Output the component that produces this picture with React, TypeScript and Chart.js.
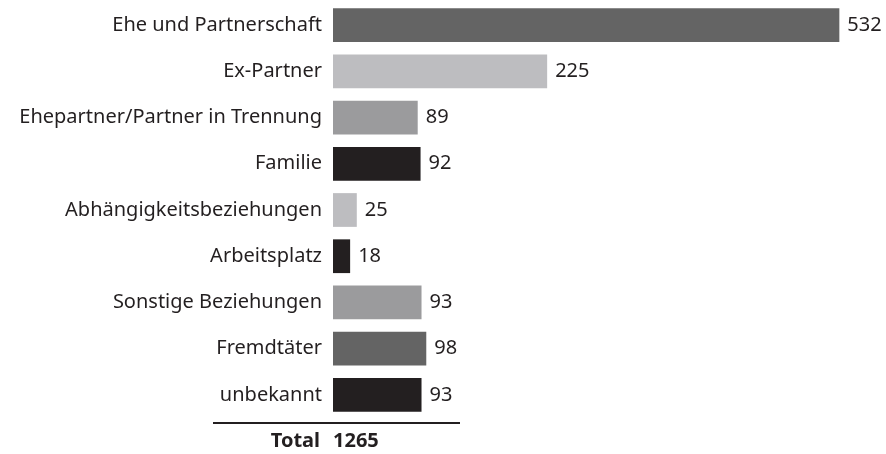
import React, { useEffect, useRef } from "react";
import { Chart, registerables } from "chart.js";

Chart.register(...registerables);

const categories = [
  "Ehe und Partnerschaft",
  "Ex-Partner",
  "Ehepartner/Partner in Trennung",
  "Familie",
  "Abhängigkeitsbeziehungen",
  "Arbeitsplatz",
  "Sonstige Beziehungen",
  "Fremdtäter",
  "unbekannt",
];
const values = [532, 225, 89, 92, 25, 18, 93, 98, 93];
const barColors = [
  "#646464",
  "#bdbdc0",
  "#9b9b9d",
  "#231f20",
  "#bdbdc0",
  "#231f20",
  "#9b9b9d",
  "#646464",
  "#231f20",
];
const totalLabel = "Total";
const totalValue = 1265;

const FONT = "'Noto Sans', sans-serif";
const TEXT = "#231f20";

const labelsPlugin = {
  id: "labelsPlugin",
  afterDatasetsDraw(chart: any) {
    const ctx = chart.ctx;
    const meta = chart.getDatasetMeta(0);
    const area = chart.chartArea;
    const yScale = chart.scales.y;
    ctx.save();
    ctx.font = `20px ${FONT}`;
    ctx.fillStyle = TEXT;
    ctx.textBaseline = "middle";
    categories.forEach((c, i) => {
      const y = yScale.getPixelForValue(i);
      ctx.textAlign = "right";
      ctx.fillText(c, area.left - 11, y);
    });
    ctx.textAlign = "left";
    meta.data.forEach((bar: any, i: number) => {
      ctx.fillText(String(values[i]), bar.x + 8, bar.y);
    });
    // total line and label
    const yLine = area.bottom + 5;
    ctx.strokeStyle = TEXT;
    ctx.lineWidth = 2;
    ctx.beginPath();
    ctx.moveTo(213, yLine);
    ctx.lineTo(460, yLine);
    ctx.stroke();
    ctx.font = `bold 20px ${FONT}`;
    ctx.textAlign = "right";
    ctx.fillText(totalLabel, area.left - 13, yLine + 18);
    ctx.textAlign = "left";
    ctx.fillText(String(totalValue), area.left, yLine + 18);
    ctx.restore();
  },
};

export default function App() {
  const ref = useRef<HTMLCanvasElement>(null);
  useEffect(() => {
    if (!ref.current) return;
    const chart = new Chart(ref.current, {
      type: "bar",
      data: {
        labels: categories,
        datasets: [
          {
            data: values,
            backgroundColor: barColors,
            borderWidth: 0,
            barPercentage: 0.73,
            categoryPercentage: 1,
          },
        ],
      },
      options: {
        indexAxis: "y",
        animation: false,
        responsive: true,
        maintainAspectRatio: false,
        layout: { padding: { top: 2, bottom: 36, right: 20, left: 333 } },
        plugins: {
          legend: { display: false },
          tooltip: { enabled: false },
        },
        scales: {
          x: {
            display: false,
            min: 0,
            max: 560,
            grid: { display: false },
          },
          y: {
            display: false,
            grid: { display: false },
          },
        },
      },
      plugins: [labelsPlugin],
    });
    return () => chart.destroy();
  }, []);
  return (
    <div style={{ position: "fixed", left: 0, top: 0, width: 886, height: 454, background: "#fff" }}>
      <canvas ref={ref} />
    </div>
  );
}
